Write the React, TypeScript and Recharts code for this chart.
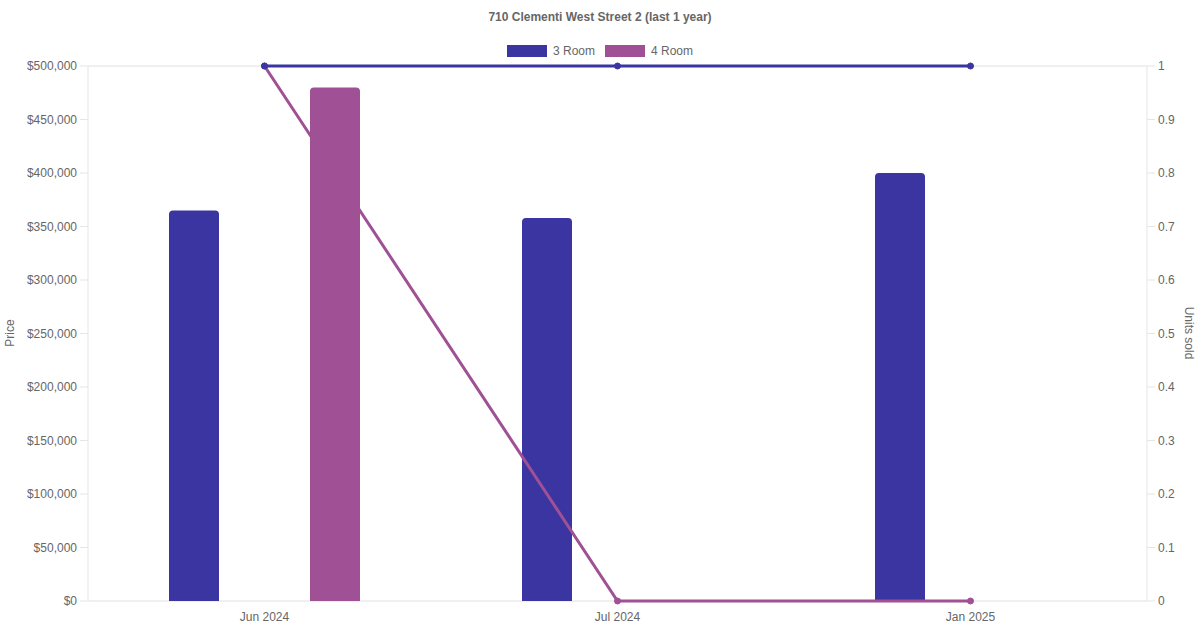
import React from 'react';
import { ComposedChart, Bar, Line, XAxis, YAxis, CartesianGrid } from 'recharts';

const months = ['Jun 2024', 'Jul 2024', 'Jan 2025'];
const price3Room = [365000, 358000, 400000];
const price4Room = [480000, null, null];
const units3Room = [1, 1, 1];
const units4Room = [1, 0, 0];
const priceTicks = [0, 50000, 100000, 150000, 200000, 250000, 300000, 350000, 400000, 450000, 500000];
const unitTicks = [0, 0.1, 0.2, 0.3, 0.4, 0.5, 0.6, 0.7, 0.8, 0.9, 1];

const data = months.map((month, i) => ({
  month,
  price3: price3Room[i],
  price4: price4Room[i],
  units3: units3Room[i],
  units4: units4Room[i],
}));

const BLUE = '#3a35a0';
const PURPLE = '#a05094';
const FONT = '"Liberation Sans", Arial, Helvetica, sans-serif';
const tickStyle = { fill: '#666', fontSize: 12, fontFamily: FONT };

const formatPrice = (v: number) => '$' + v.toLocaleString('en-US');

export default function App() {
  return (
    <div style={{ position: 'absolute', left: 0, top: 0, width: 1200, height: 630, background: '#fff', fontFamily: FONT }}>
      <div style={{ position: 'absolute', top: 10, width: 1200, textAlign: 'center', fontSize: 12, fontWeight: 'bold', color: '#666' }}>
        710 Clementi West Street 2 (last 1 year)
      </div>
      <div style={{ position: 'absolute', top: 44, width: 1200, display: 'flex', justifyContent: 'center', fontSize: 12, color: '#666' }}>
        {[{ label: '3 Room', color: BLUE }, { label: '4 Room', color: PURPLE }].map((item) => (
          <div key={item.label} style={{ display: 'flex', alignItems: 'center', margin: '0 5px' }}>
            <span style={{ display: 'inline-block', width: 40, height: 12, background: item.color, marginRight: 6 }} />
            <span>{item.label}</span>
          </div>
        ))}
      </div>
      <div style={{ position: 'absolute', left: 10, top: 333, transform: 'translate(-50%, -50%) rotate(-90deg)', fontSize: 12, color: '#666', whiteSpace: 'nowrap' }}>
        Price
      </div>
      <div style={{ position: 'absolute', left: 1189, top: 333, transform: 'translate(-50%, -50%) rotate(90deg)', fontSize: 12, color: '#666', whiteSpace: 'nowrap' }}>
        Units sold
      </div>
      <ComposedChart
        width={1200}
        height={630}
        data={data}
        margin={{ top: 66, right: 0, bottom: 0, left: 0 }}
        barSize={50}
        barGap={91}
      >
        <CartesianGrid vertical={false} stroke="#e0e0e0" />
        <XAxis
          dataKey="month"
          height={29}
          tickLine={false}
          axisLine={false}
          tick={tickStyle}
          tickMargin={5}
        />
        <YAxis
          yAxisId="left"
          width={88}
          domain={[0, 500000]}
          ticks={priceTicks}
          tickFormatter={formatPrice}
          tick={tickStyle}
          tickSize={8}
          tickMargin={3}
          tickLine={{ stroke: '#e5e5e5' }}
          axisLine={{ stroke: '#e5e5e5' }}
        />
        <YAxis
          yAxisId="right"
          orientation="right"
          width={53}
          domain={[0, 1]}
          ticks={unitTicks}
          tick={tickStyle}
          tickSize={8}
          tickMargin={3}
          tickLine={{ stroke: '#e5e5e5' }}
          axisLine={{ stroke: '#e5e5e5' }}
        />
        <Bar yAxisId="left" dataKey="price3" fill={BLUE} radius={[4, 4, 0, 0]} isAnimationActive={false} />
        <Bar yAxisId="left" dataKey="price4" fill={PURPLE} radius={[4, 4, 0, 0]} isAnimationActive={false} />
        <Line
          yAxisId="right"
          dataKey="units4"
          stroke={PURPLE}
          strokeWidth={3}
          dot={{ r: 3, fill: PURPLE, stroke: PURPLE, strokeWidth: 1 }}
          isAnimationActive={false}
        />
        <Line
          yAxisId="right"
          dataKey="units3"
          stroke={BLUE}
          strokeWidth={3}
          dot={{ r: 3, fill: BLUE, stroke: BLUE, strokeWidth: 1 }}
          isAnimationActive={false}
        />
      </ComposedChart>
    </div>
  );
}
